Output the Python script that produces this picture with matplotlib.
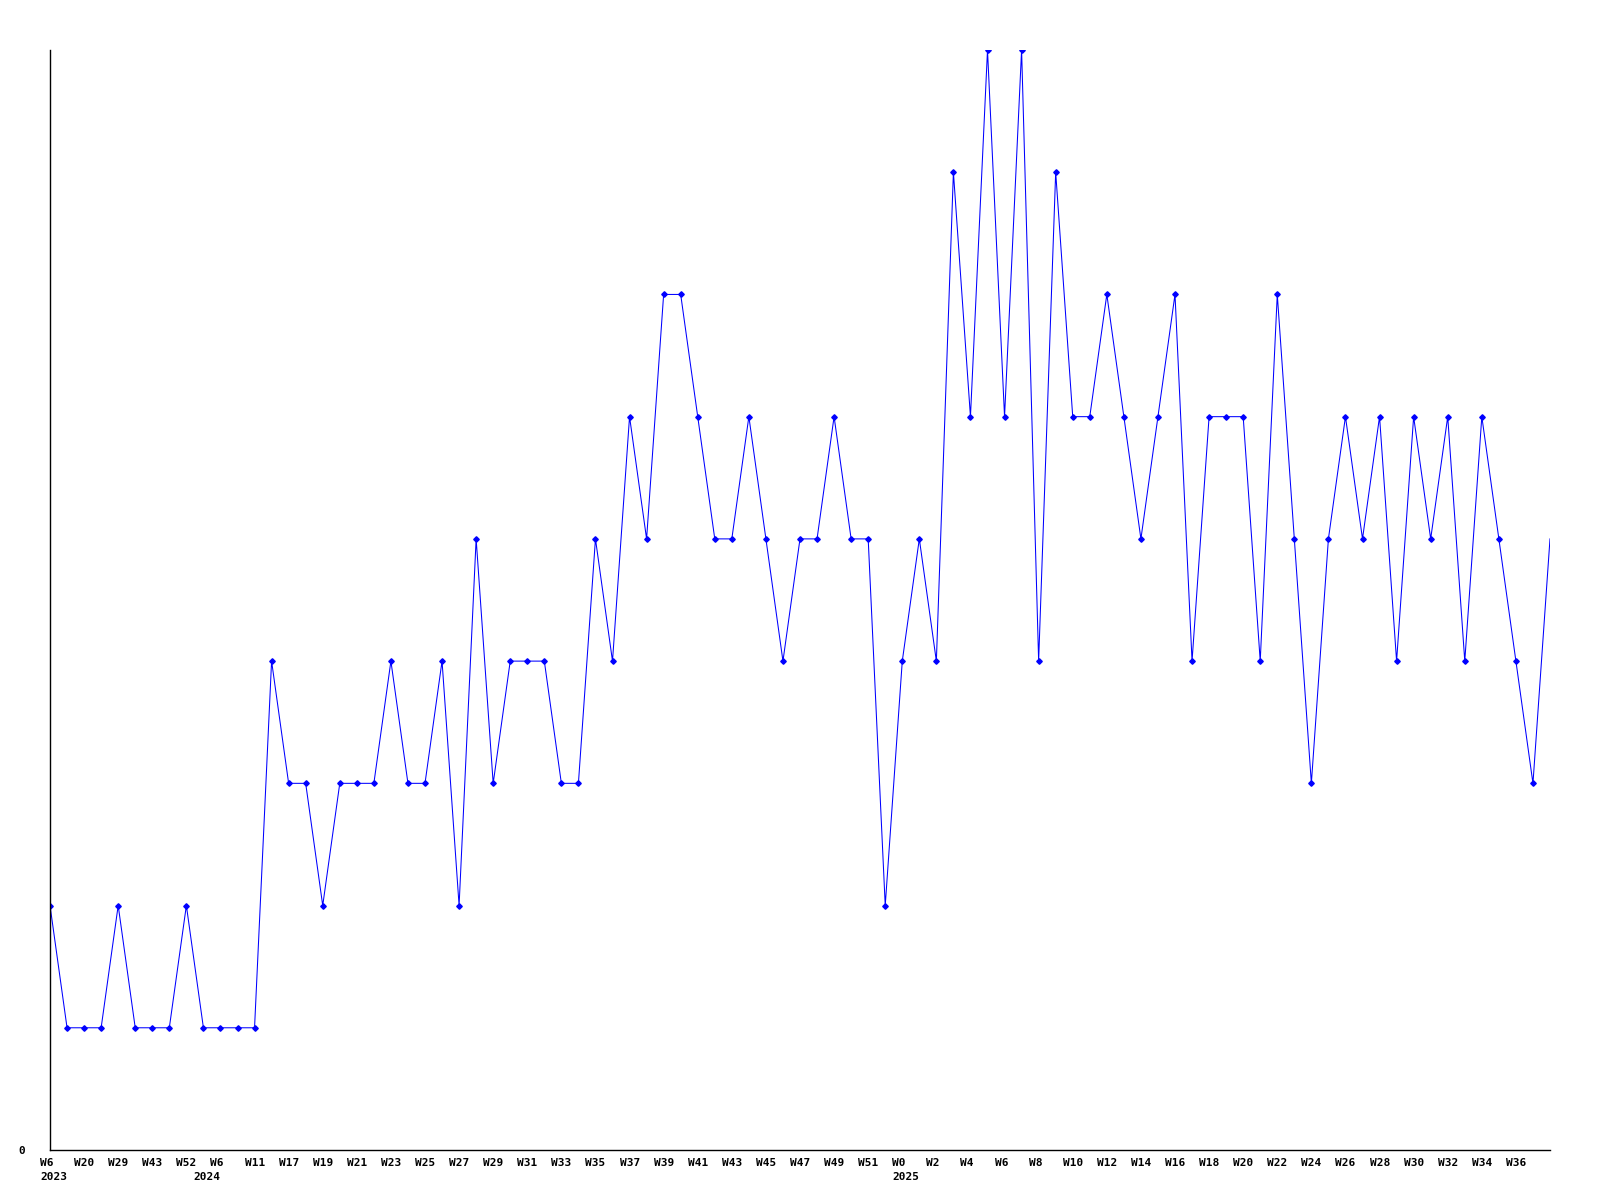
import matplotlib
matplotlib.use("Agg")
import matplotlib.pyplot as plt
import matplotlib.transforms as mtransforms

# weekly counts
values = [2, 1, 1, 1, 2, 1, 1, 1, 2, 1, 1, 1, 1, 4, 3, 3, 2, 3, 3, 3,
          4, 3, 3, 4, 2, 5, 3, 4, 4, 4, 3, 3, 5, 4, 6, 5, 7, 7, 6, 5,
          5, 6, 5, 4, 5, 5, 6, 5, 5, 2, 4, 5, 4, 8, 6, 9, 6, 9, 4, 8,
          6, 6, 7, 6, 5, 6, 7, 4, 6, 6, 6, 4, 7, 5, 3, 5, 6, 5, 6, 4,
          6, 5, 6, 4, 6, 5, 4, 3, 5]

# labels shown on every second point
week_labels = ["W6", "W20", "W29", "W43", "W52", "W6", "W11", "W17", "W19", "W21",
               "W23", "W25", "W27", "W29", "W31", "W33", "W35", "W37", "W39", "W41",
               "W43", "W45", "W47", "W49", "W51", "W0", "W2", "W4", "W6", "W8",
               "W10", "W12", "W14", "W16", "W18", "W20", "W22", "W24", "W26", "W28",
               "W30", "W32", "W34", "W36"]
# year label and the point it sits under
years = ["2023", "2024", "2025"]
year_points = [0, 9, 50]

x = list(range(len(values)))
tick_pos = x[::2][:len(week_labels)]

fig = plt.figure(figsize=(16, 12), dpi=100)
ax = fig.add_axes([50 / 1600, 50 / 1200, 1500 / 1600, 1100 / 1200])

ax.plot(x, values, color="#0000ff", linewidth=0.75, marker="D", markersize=2.8,
        markevery=slice(0, len(values) - 1))

ax.set_xlim(0, len(values) - 1)
ax.set_ylim(0, 9)

for s in ["top", "right"]:
    ax.spines[s].set_visible(False)
for s in ["left", "bottom"]:
    ax.spines[s].set_color("black")
    ax.spines[s].set_linewidth(1)

ax.set_yticks([0], ["0"])
ax.tick_params(axis="y", length=0, pad=18)
ax.set_xticks(tick_pos, week_labels)
ax.tick_params(axis="x", length=0, pad=6)

offset = mtransforms.ScaledTranslation(-10 / 100, 0, fig.dpi_scale_trans)
for lab in ax.get_xticklabels():
    lab.set_horizontalalignment("left")
    lab.set_transform(lab.get_transform() + offset)

for lab in ax.get_xticklabels() + ax.get_yticklabels():
    lab.set_fontfamily("DejaVu Sans Mono")
    lab.set_fontweight("bold")
    lab.set_fontsize(8)

# year labels on a second row under the week labels
ytrans = mtransforms.blended_transform_factory(ax.transData, ax.transAxes)
yoff = mtransforms.ScaledTranslation(-10 / 100, -22.5 / 100, fig.dpi_scale_trans)
for p, yr in zip(year_points, years):
    ax.text(p, 0, yr, transform=ytrans + yoff, ha="left", va="top",
            fontfamily="DejaVu Sans Mono", fontweight="bold", fontsize=8)

fig.savefig("out.png", dpi=100, facecolor="white")
